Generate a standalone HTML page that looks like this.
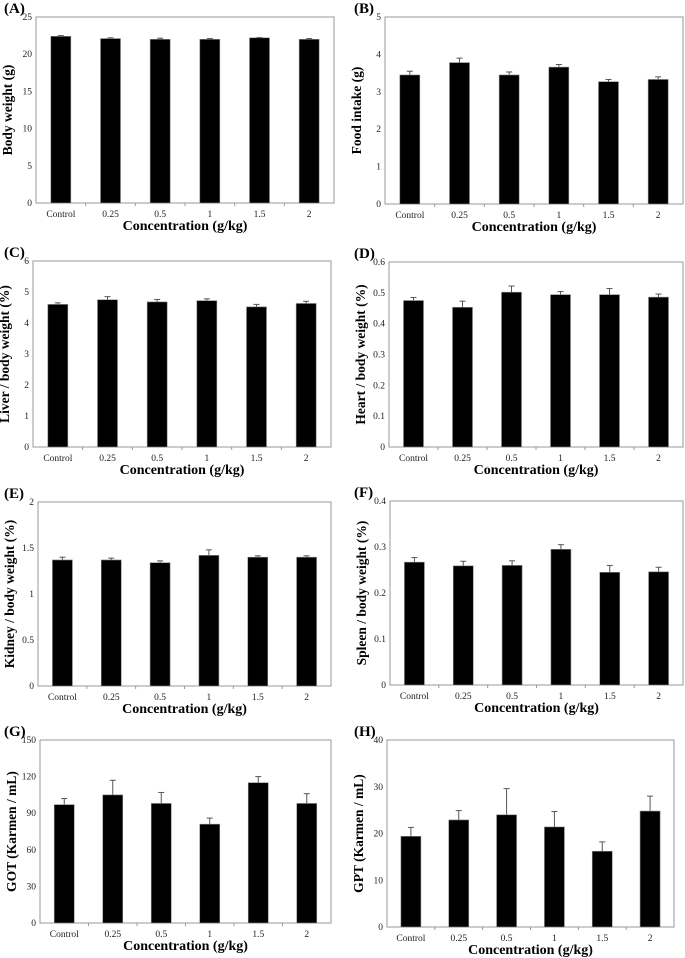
<!DOCTYPE html>
<html><head><meta charset="utf-8">
<style>
html,body{margin:0;padding:0;background:#fff;}
svg{display:block;font-family:"Liberation Serif",serif;}
</style></head>
<body>
<svg id="fig" width="685" height="958" viewBox="0 0 685 958" xmlns="http://www.w3.org/2000/svg"></svg>
<script>
const categories = ["Control","0.25","0.5","1","1.5","2"];
const bodyWeight = [22.4,22.1,22.0,22.0,22.2,22.0];
const bodyWeightErr = [0.1,0.1,0.15,0.1,0.05,0.1];
const foodIntake = [3.45,3.78,3.45,3.66,3.27,3.33];
const foodIntakeErr = [0.1,0.12,0.08,0.07,0.06,0.07];
const liver = [4.6,4.75,4.68,4.72,4.52,4.63];
const liverErr = [0.05,0.1,0.08,0.06,0.08,0.07];
const heart = [0.475,0.453,0.502,0.494,0.494,0.486];
const heartErr = [0.01,0.02,0.02,0.01,0.02,0.01];
const kidney = [1.37,1.37,1.34,1.42,1.40,1.40];
const kidneyErr = [0.03,0.02,0.02,0.06,0.015,0.015];
const spleen = [0.267,0.259,0.260,0.295,0.245,0.246];
const spleenErr = [0.01,0.01,0.01,0.01,0.015,0.01];
const got = [97,105,98,81,115,98];
const gotErr = [5,12,9,5,5,8];
const gpt = [19.4,22.9,24.0,21.4,16.2,24.8];
const gptErr = [1.9,2.0,5.6,3.3,2.0,3.2];
const ticksA = ["0","5","10","15","20","25"];
const ticksB = ["0","1","2","3","4","5"];
const ticksC = ["0","1","2","3","4","5","6"];
const ticksD = ["0","0.1","0.2","0.3","0.4","0.5","0.6"];
const ticksE = ["0","0.5","1","1.5","2"];
const ticksF = ["0","0.1","0.2","0.3","0.4"];
const ticksG = ["0","30","60","90","120","150"];
const ticksH = ["0","10","20","30","40"];

const panels = [
 {id:"a",letter:"(A)",title:"Body weight (g)",vals:bodyWeight,err:bodyWeightErr,ticks:ticksA,box:[36,17,334,203]},
 {id:"b",letter:"(B)",title:"Food intake (g)",vals:foodIntake,err:foodIntakeErr,ticks:ticksB,box:[385,17,683,204]},
 {id:"c",letter:"(C)",title:"Liver / body weight (%)",vals:liver,err:liverErr,ticks:ticksC,box:[33,261,331,447]},
 {id:"d",letter:"(D)",title:"Heart / body weight (%)",vals:heart,err:heartErr,ticks:ticksD,box:[389,262,683,447]},
 {id:"e",letter:"(E)",title:"Kidney / body weight (%)",vals:kidney,err:kidneyErr,ticks:ticksE,box:[38,502,331,686]},
 {id:"f",letter:"(F)",title:"Spleen / body weight (%)",vals:spleen,err:spleenErr,ticks:ticksF,box:[390,501,683,685]},
 {id:"g",letter:"(G)",title:"GOT (Karmen / mL)",vals:got,err:gotErr,ticks:ticksG,box:[40,740,331,923]},
 {id:"h",letter:"(H)",title:"GPT (Karmen / mL)",vals:gpt,err:gptErr,ticks:ticksH,box:[387,740,674,927]}
];
const NS="http://www.w3.org/2000/svg";
const svg=document.getElementById("fig");
function mk(tag,attrs,parent,text){const e=document.createElementNS(NS,tag);for(const k in attrs)e.setAttribute(k,attrs[k]);if(text!==undefined)e.textContent=text;parent.appendChild(e);return e;}
panels.forEach(p=>{
 const [L,T,R,B]=p.box;
 const g=mk("g",{},svg);
 
 
 const ymax=parseFloat(p.ticks[p.ticks.length-1]);
 const y=v=>B-(v/ymax)*(B-T);
 const bw=(R-L)/categories.length;
 const x=i=>L+bw*(i+0.5);
 const fr=mk("rect",{x:L,y:T,width:R-L,height:B-T,fill:"none",stroke:"#999","stroke-width":1},g);
 
 
 p.ticks.forEach(t=>{
  const v=parseFloat(t);
  const tl=mk("text",{x:L-4,y:y(v)+3,"font-size":9.5,"text-anchor":"end",fill:"#222"},g,t);
  
  
 });
 for(let i=1;i<categories.length;i++){
  mk("line",{x1:L+bw*i,x2:L+bw*i,y1:B,y2:B+3,stroke:"#999","stroke-width":1},g);
 }
 categories.forEach((c,i)=>{
  const v=p.vals[i],e=p.err[i];
  const eb=mk("line",{x1:x(i),x2:x(i),y1:y(v),y2:y(v+e),stroke:"#555","stroke-width":1},g);
  
  
  mk("line",{x1:x(i)-3,x2:x(i)+3,y1:y(v+e),y2:y(v+e),stroke:"#555","stroke-width":1},g);
  const r=mk("rect",{x:x(i)-10,y:y(v),width:20,height:B-y(v),fill:"#000",stroke:"#888","stroke-width":0.6},g);
  
  
  const xl=mk("text",{x:x(i),y:B+14,"font-size":9.5,"text-anchor":"middle",fill:"#222"},g,c);
  
  
 });
 const xt=mk("text",{x:(L+R)/2,y:B+27,"font-size":14,"font-weight":"bold","text-anchor":"middle"},g,"Concentration (g/kg)");
 
 
 const yx=L-24,yy=(T+B)/2;
 const yt=mk("text",{x:yx,y:yy,"font-size":13.5,"font-weight":"bold","text-anchor":"middle",transform:`rotate(-90 ${yx} ${yy})`},g,p.title);
 
 
 const lx=L<200?4:354;
 const lt=mk("text",{x:lx,y:T-4,"font-size":15,"font-weight":"bold"},g,p.letter);
 
 
});
</script>
</body></html>
